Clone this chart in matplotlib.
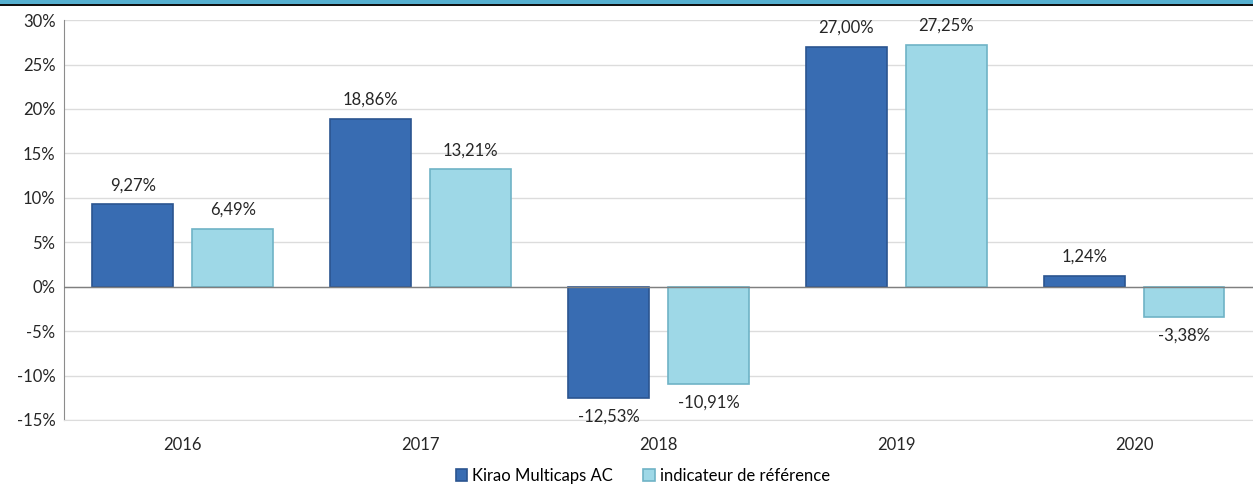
import numpy as np
import matplotlib.pyplot as plt
from matplotlib.patches import Rectangle

years = ["2016", "2017", "2018", "2019", "2020"]
kirao = [9.27, 18.86, -12.53, 27.00, 1.24]
indic = [6.49, 13.21, -10.91, 27.25, -3.38]
series_names = ["Kirao Multicaps AC", "indicateur de référence"]

plt.rcParams['font.family'] = ['Lato', 'DejaVu Sans']

fig = plt.figure(figsize=(12.53, 4.9), dpi=100)
ax = fig.add_axes([0.051, 0.143, 0.949, 0.816])

# top banner
fig.patches.append(Rectangle((0, 0.992), 1, 0.008, transform=fig.transFigure,
                             facecolor="#56b0d0", edgecolor="none"))
fig.patches.append(Rectangle((0, 0.987), 1, 0.005, transform=fig.transFigure,
                             facecolor="#111111", edgecolor="none"))

x = np.arange(len(years))
w = 0.34
off = 0.21
b1 = ax.bar(x - off, kirao, w, color="#386cb2", edgecolor="#2b5590", linewidth=1.2,
            label=series_names[0], zorder=3)
b2 = ax.bar(x + off, indic, w, color="#9ed8e7", edgecolor="#6fb3c6", linewidth=1.2,
            label=series_names[1], zorder=3)

def fmt(v):
    return ("%.2f%%" % v).replace(".", ",")

for bars, vals in [(b1, kirao), (b2, indic)]:
    for b, v in zip(bars, vals):
        cx = b.get_x() + b.get_width() / 2
        if v >= 0:
            ax.annotate(fmt(v), (cx, v), xytext=(0, 8), textcoords="offset points",
                        ha="center", va="bottom", fontsize=12, color="#262626")
        else:
            ax.annotate(fmt(v), (cx, v), xytext=(0, -8), textcoords="offset points",
                        ha="center", va="top", fontsize=12, color="#262626")

ax.set_xlim(-0.5, len(years) - 0.5)
ax.set_ylim(-15, 30)
ax.set_yticks(np.arange(-15, 31, 5))
ax.set_yticklabels(["%d%%" % t for t in np.arange(-15, 31, 5)])
ax.set_xticks(x)
ax.set_xticklabels(years)
ax.tick_params(axis="both", length=0, labelsize=12, colors="#262626")
ax.tick_params(axis="x", pad=12)
ax.tick_params(axis="y", pad=6)

ax.grid(axis="y", color="#dcdcdc", linewidth=1, zorder=0)
ax.axhline(0, color="#7f7f7f", linewidth=1, zorder=4)
for s in ["top", "right"]:
    ax.spines[s].set_visible(False)
ax.spines["bottom"].set_color("#dcdcdc")
ax.spines["left"].set_color("#8c8c8c")

fig.legend(loc="lower center", bbox_to_anchor=(0.513, -0.018), ncol=2, frameon=False,
           fontsize=12, handlelength=0.7, handleheight=0.7, columnspacing=1.8,
           handletextpad=0.3)

fig.savefig("out.png", dpi=100)
